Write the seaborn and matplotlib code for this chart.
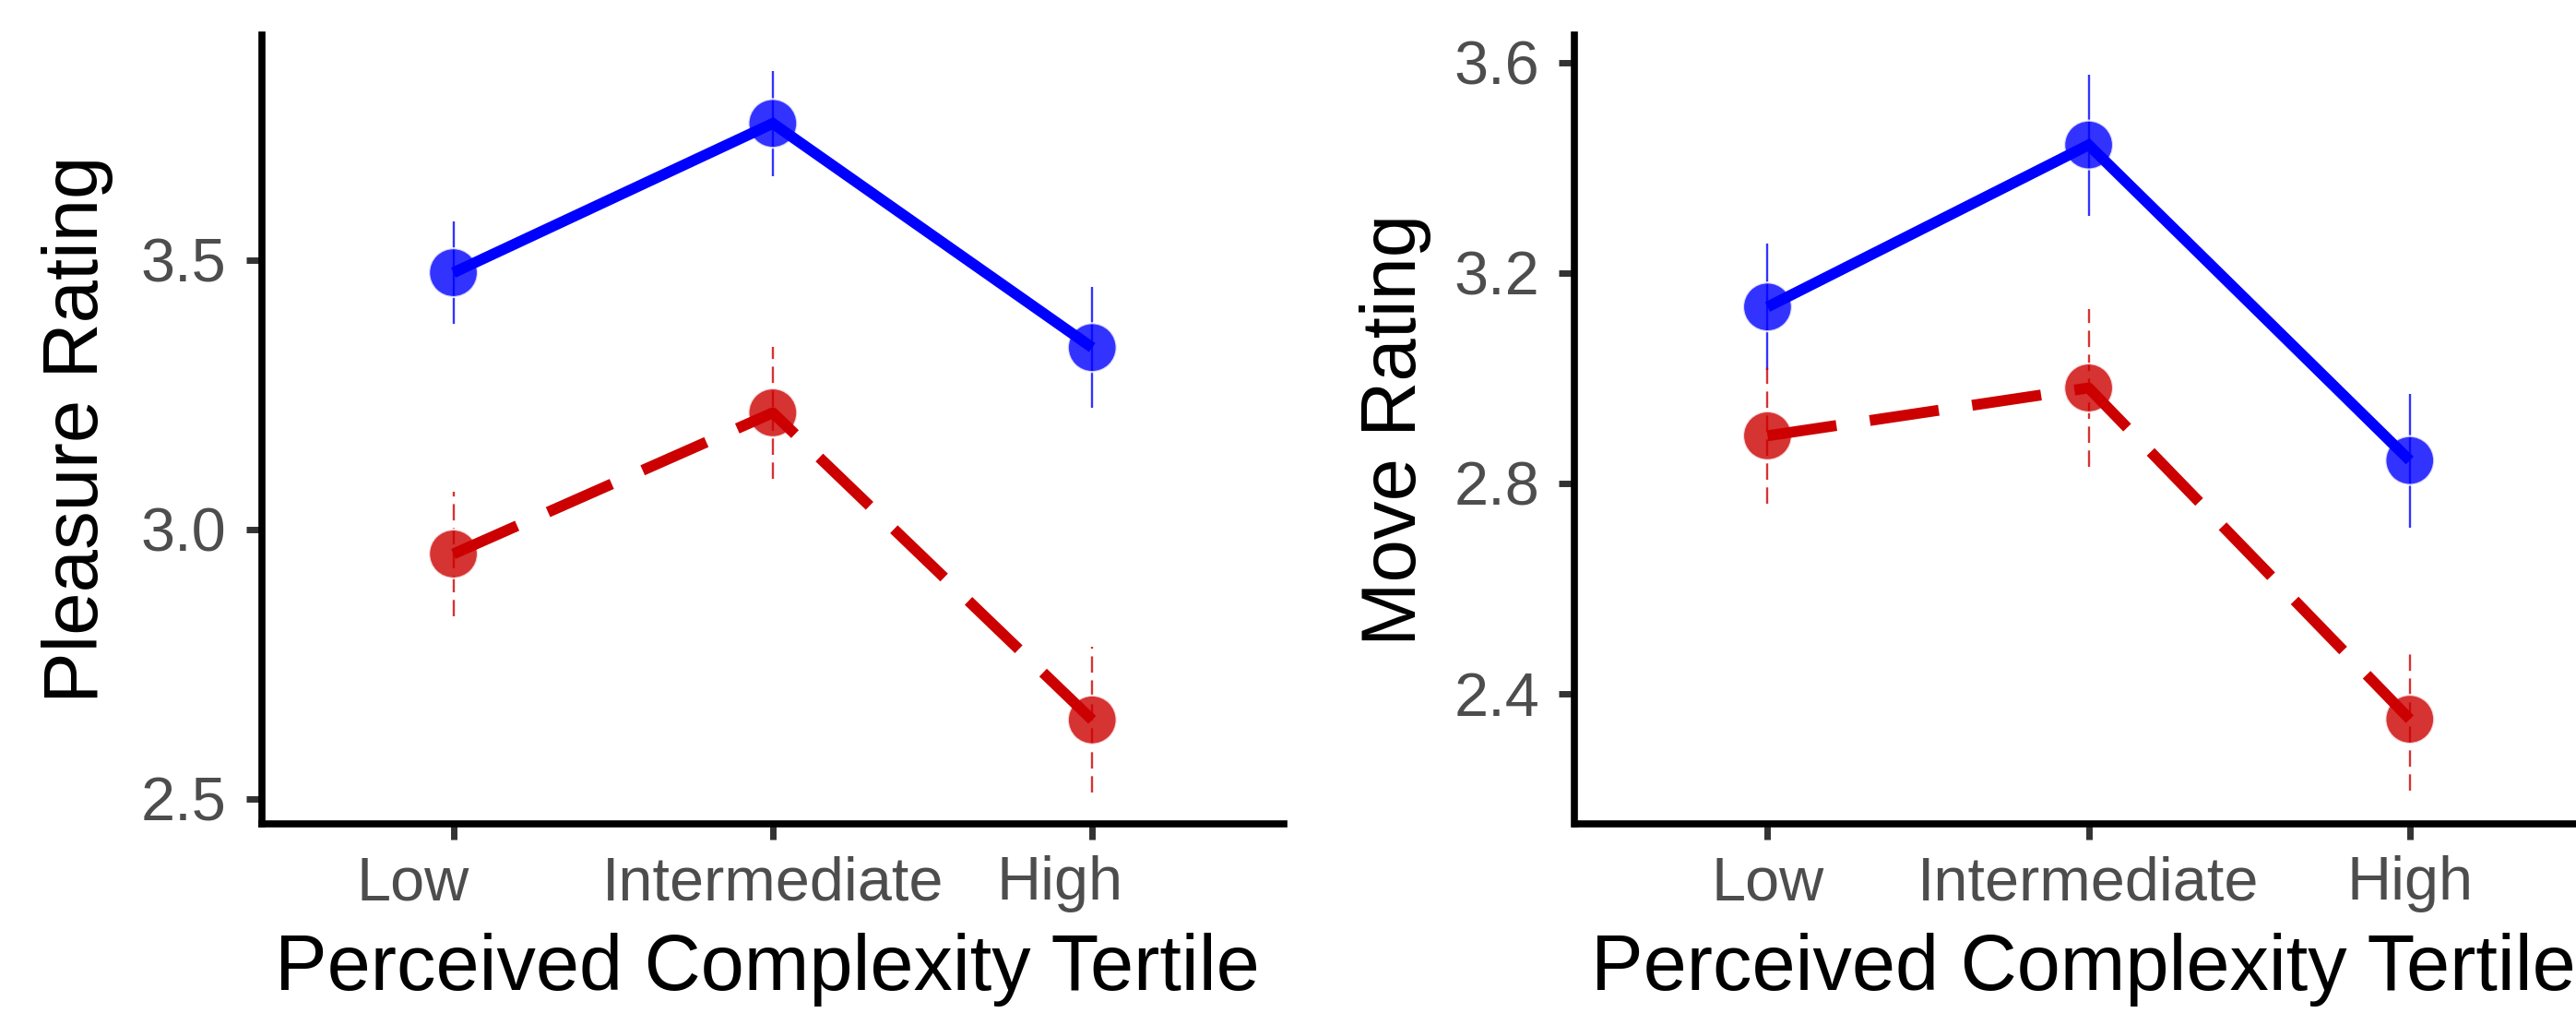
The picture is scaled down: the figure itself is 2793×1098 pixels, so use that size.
import numpy as np
import pandas as pd
import matplotlib
matplotlib.use("Agg")
import matplotlib.pyplot as plt
import matplotlib.transforms as mtransforms
import seaborn as sns

# ---------------- data ----------------
categories = ["Low", "Intermediate", "High"]
groups = ["Group 1", "Group 2"]

pleasure_blue = [3.476, 3.753, 3.337]
pleasure_blue_err = [0.095, 0.098, 0.112]
pleasure_red = [2.954, 3.216, 2.646]
pleasure_red_err = [0.115, 0.122, 0.135]

move_blue = [3.135, 3.443, 2.843]
move_blue_err = [0.120, 0.134, 0.127]
move_red = [2.890, 2.981, 2.351]
move_red_err = [0.130, 0.150, 0.136]

pleasure_ticks = [2.5, 3.0, 3.5]
move_ticks = [2.4, 2.8, 3.2, 3.6]

x_title = "Perceived Complexity Tertile"
y_titles = ["Pleasure Rating", "Move Rating"]

# ---------------- style ----------------
sns.set_theme(style="ticks")
plt.rcParams["font.family"] = ["Liberation Sans", "DejaVu Sans"]

BLUE = "#0000FF"
RED = "#CC0000"
palette = {groups[0]: BLUE, groups[1]: RED}

W, H = 2793, 1098
fig = plt.figure(figsize=(W / 100, H / 100), dpi=100)

def frac(x0, y0, x1, y1):
    return [x0 / W, 1 - y1 / H, (x1 - x0) / W, (y1 - y0) / H]

ax1 = fig.add_axes(frac(283.8, 38, 1392, 893))
ax2 = fig.add_axes(frac(1707.5, 38, 2821.7, 893))

panels = [
    (ax1, pleasure_blue, pleasure_blue_err, pleasure_red, pleasure_red_err,
     pleasure_ticks, (2.453, 3.917), y_titles[0], -0.145, [-32, 0, -25]),
    (ax2, move_blue, move_blue_err, move_red, move_red_err,
     move_ticks, (2.152, 3.652), y_titles[1], -0.1397, [0, 0, 0]),
]

for ax, yb, eb, yr, er, ticks, ylim, ytitle, ylab_x, xshift in panels:
    df = pd.DataFrame({
        "pos": list(range(len(categories))) * 2,
        "value": yb + yr,
        "err": eb + er,
        "group": [groups[0]] * 3 + [groups[1]] * 3,
    })

    # error bars
    for g, ls in zip(groups, ["solid", "dashed"]):
        sub = df[df["group"] == g]
        cont = ax.errorbar(sub["pos"], sub["value"], yerr=sub["err"], fmt="none",
                           ecolor=palette[g], elinewidth=1.7, capsize=0,
                           alpha=0.8, zorder=1)
        if ls == "dashed":
            for lc in cont[2]:
                lc.set_linestyle((0, (7.5, 3.5)))

    # points
    sns.scatterplot(data=df, x="pos", y="value", hue="group", palette=palette,
                    s=1450, alpha=0.8, linewidth=1.6, legend=False, ax=ax,
                    zorder=2)

    # lines
    sns.lineplot(data=df, x="pos", y="value", hue="group", style="group",
                 palette=palette, dashes={groups[0]: "", groups[1]: (6.4, 3.1)},
                 linewidth=8.5, legend=False, ax=ax, zorder=3, sort=False,
                 estimator=None)
    for ln in ax.lines:
        ln.set_solid_capstyle("butt")
        ln.set_dash_capstyle("butt")
        ln.set_solid_joinstyle("miter")

    ax.set_xlim(-0.6, 2.6)
    ax.set_ylim(*ylim)
    ax.set_xticks(range(len(categories)))
    ax.set_xticklabels(categories)
    ax.set_yticks(ticks)
    ax.set_yticklabels([f"{t:.1f}" for t in ticks])

    ax.set_xlabel(x_title, fontsize=61, color="black", labelpad=16)
    ax.xaxis.label.set_transform(ax.xaxis.label.get_transform() +
                                 mtransforms.ScaledTranslation(-6 / 100, 0, fig.dpi_scale_trans))
    ax.set_ylabel(ytitle, fontsize=60, color="black")
    ax.yaxis.set_label_coords(ylab_x, 0.5)

    ax.tick_params(axis="both", which="major", labelsize=48, labelcolor="#4D4D4D",
                   color="#333333", width=5, length=12.5, direction="out")
    ax.tick_params(axis="x", pad=12)
    ax.tick_params(axis="y", pad=15)

    for lab, dx in zip(ax.get_xticklabels(), xshift):
        if dx:
            lab.set_transform(lab.get_transform() +
                              mtransforms.ScaledTranslation(dx / 72, 0, fig.dpi_scale_trans))

    for side in ["top", "right"]:
        ax.spines[side].set_visible(False)
    for side in ["left", "bottom"]:
        ax.spines[side].set_linewidth(5.5)
        ax.spines[side].set_color("black")
        ax.spines[side].set_capstyle("projecting")
    ax.set_facecolor("white")
    ax.grid(False)

fig.savefig("out.png", dpi=100, facecolor="white")
